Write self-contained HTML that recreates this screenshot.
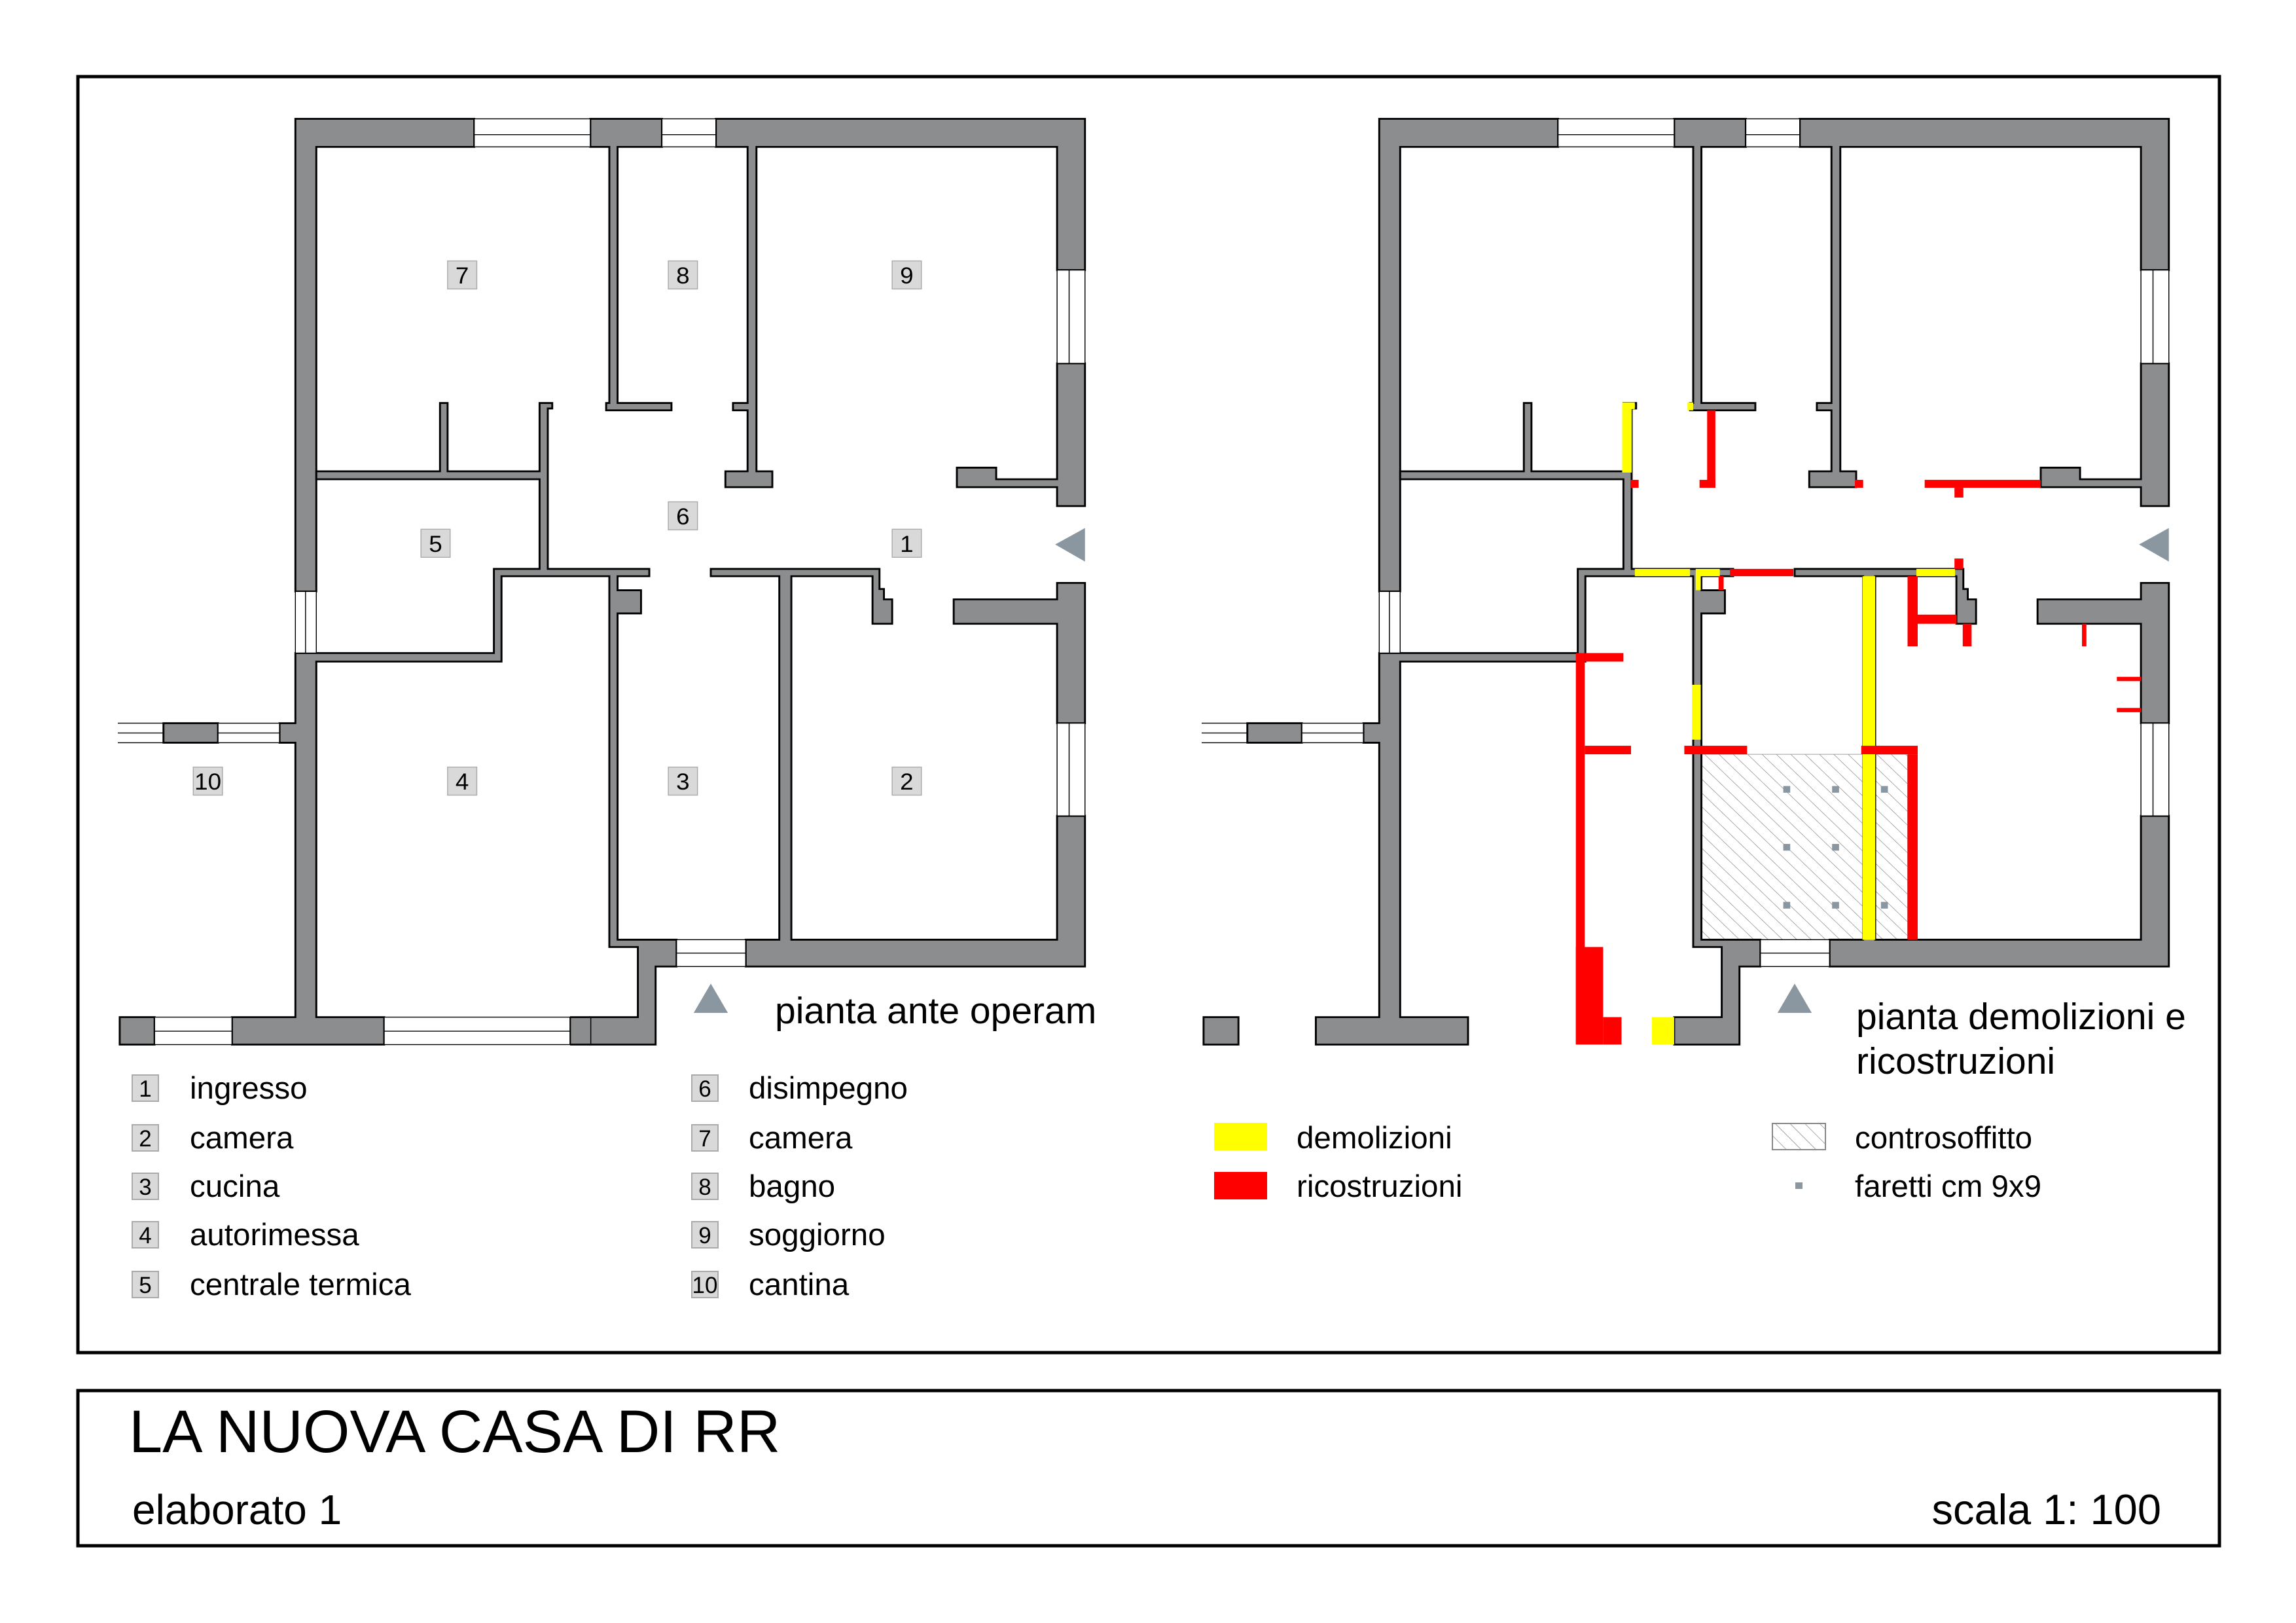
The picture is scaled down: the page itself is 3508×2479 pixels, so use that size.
<!DOCTYPE html>
<html><head><meta charset="utf-8"><style>
html,body{margin:0;padding:0;background:#fff;}
svg{display:block;}
text{font-family:"Liberation Sans",Arial,sans-serif;fill:#000;}
</style></head><body>
<svg width="3508" height="2479" viewBox="0 0 3508 2479" xmlns="http://www.w3.org/2000/svg">
<defs>
<pattern id="hatch" patternUnits="userSpaceOnUse" width="16" height="16" patternTransform="rotate(-45)">
<line x1="0" y1="0" x2="0" y2="16" stroke="#777" stroke-width="1.3"/>
</pattern>
<g id="base" stroke="#000" stroke-width="3" fill="#8c8d8e" stroke-linejoin="miter">
<polygon points="280,22 562,22 562,68 313,68 313,797 280,797"/>
<polygon points="745,22 858,22 858,68 788,68 788,488 873,488 873,500 770,500 770,488 775,488 775,68 745,68"/>
<polygon points="943,22 1525,22 1525,270 1481,270 1481,68 1007,68 1007,600 1032,600 1032,626 958,626 958,600 993,600 993,500 970,500 970,488 993,488 993,68 943,68"/>
<polygon points="1481,423 1525,423 1525,657 1481,657 1481,626 1323,626 1323,594 1385,594 1385,613 1481,613"/>
<polygon points="1481,783 1525,783 1525,1013 1481,1013 1481,850 1318,850 1318,810 1481,810"/>
<polygon points="1481,1165 1525,1165 1525,1412 990,1412 990,1368 1043,1368 1043,772 935,772 935,760 1201,760 1201,793 1208,793 1208,810 1221,810 1221,850 1190,850 1190,772 1062,772 1062,1368 1481,1368"/>
<polygon points="313,600 508,600 508,488 520,488 520,600 665,600 665,488 685,488 685,497 678,497 678,760 838,760 838,772 788,772 788,795 825,795 825,833 788,833 788,1368 881,1368 881,1412 848,1412 848,1540 745,1540 745,1495 820,1495 820,1380 775,1380 775,772 605,772 605,912 313,912 313,1495 420,1495 420,1540 180,1540 180,1495 280,1495 280,1045 255,1045 255,1013 280,1013 280,898 593,898 593,760 665,760 665,613 313,613"/>
<rect x="72" y="1013" width="86" height="32"/>
<rect x="3" y="1495" width="55" height="45"/>
<g fill="#fff" stroke-width="1.5">
<rect x="562" y="22" width="183" height="46"/><line x1="562" y1="48" x2="745" y2="48"/>
<rect x="858" y="22" width="85" height="46"/><line x1="858" y1="48" x2="943" y2="48"/>
<rect x="1481" y="270" width="44" height="153"/><line x1="1500" y1="270" x2="1500" y2="423"/>
<rect x="1481" y="1013" width="44" height="152"/><line x1="1500" y1="1013" x2="1500" y2="1165"/>
<rect x="280" y="797" width="33" height="101"/><line x1="296" y1="797" x2="296" y2="898"/>
<rect x="881" y="1368" width="109" height="44"/><line x1="881" y1="1390" x2="990" y2="1390"/>
<rect x="158" y="1013" width="97" height="32"/><line x1="158" y1="1029" x2="255" y2="1029"/>
<line x1="0" y1="1013" x2="72" y2="1013"/><line x1="0" y1="1045" x2="72" y2="1045"/><line x1="0" y1="1029" x2="72" y2="1029"/>
</g>
<polygon points="1478,720 1525,693 1525,748" fill="#8a96a0" stroke="none"/>
<polygon points="908,1488 935,1440 962,1488" fill="#8a96a0" stroke="none"/>
</g>
</defs>

<rect x="119" y="117" width="3272" height="1949" fill="none" stroke="#000" stroke-width="5"/>
<rect x="119" y="2124" width="3272" height="237" fill="none" stroke="#000" stroke-width="5"/>

<!-- LEFT PLAN -->
<g transform="translate(180,161) scale(0.969,0.9315)">
<use href="#base"/>
<g stroke="#000" stroke-width="3" fill="#8c8d8e">
<rect x="713" y="1495" width="32" height="45" stroke="none"/>
<line x1="713" y1="1495" x2="745" y2="1495"/><line x1="713" y1="1540" x2="745" y2="1540"/><line x1="713" y1="1495" x2="713" y2="1540"/>
</g>
<g fill="#fff" stroke="#000" stroke-width="1.5">
<rect x="58" y="1495" width="122" height="45"/><line x1="58" y1="1518" x2="180" y2="1518"/>
<rect x="420" y="1495" width="293" height="45"/><line x1="420" y1="1518" x2="713" y2="1518"/>
</g>
<g font-size="38" text-anchor="middle">
<g fill="#d9d9d9" stroke="#aaa" stroke-width="1.5">
<rect x="520" y="255" width="46" height="46"/><rect x="868" y="255" width="46" height="46"/><rect x="1221" y="255" width="46" height="46"/>
<rect x="868" y="650" width="46" height="46"/><rect x="478" y="695" width="46" height="46"/><rect x="1221" y="695" width="46" height="46"/>
<rect x="119" y="1085" width="46" height="46"/><rect x="520" y="1085" width="46" height="46"/><rect x="868" y="1085" width="46" height="46"/><rect x="1221" y="1085" width="46" height="46"/>
</g>
<g style="fill:#444">
<text x="543" y="292">7</text><text x="891" y="292">8</text><text x="1244" y="292">9</text>
<text x="891" y="687">6</text><text x="501" y="732">5</text><text x="1244" y="732">1</text>
<text x="142" y="1122">10</text><text x="543" y="1122">4</text><text x="891" y="1122">3</text><text x="1244" y="1122">2</text>
</g></g>
</g>
<text x="1184" y="1563" font-size="57">pianta ante operam</text>

<!-- RIGHT PLAN -->
<g transform="translate(1836,161) scale(0.969,0.9315)">
<rect x="787" y="1064" width="326" height="304" fill="url(#hatch)" stroke="#999" stroke-width="1"/>
<use href="#base"/>
<g fill="#ffff00">
<polygon points="663,487 683,487 683,498 678,498 678,602 663,602"/>
<rect x="766" y="487" width="9" height="13"/>
<rect x="683" y="760" width="87" height="12"/>
<polygon points="779,760 817,760 817,772 787,772 787,795 779,795"/>
<rect x="1127" y="760" width="61" height="12"/>
<rect x="1042" y="772" width="20" height="596"/>
<rect x="773" y="950" width="14" height="90"/>
<rect x="710" y="1495" width="35" height="45"/>
</g>
<g fill="#ff0000">
<rect x="677" y="614" width="12" height="13"/>
<rect x="797" y="500" width="13" height="127"/><rect x="785" y="614" width="25" height="13"/>
<rect x="1030" y="614" width="13" height="13"/>
<rect x="1140" y="614" width="183" height="13"/><rect x="1187" y="627" width="14" height="16"/>
<rect x="1187" y="743" width="14" height="17"/>
<rect x="833" y="760" width="100" height="12"/>
<rect x="815" y="772" width="8" height="23"/>
<rect x="1113" y="772" width="16" height="115"/><rect x="1129" y="835" width="61" height="15"/>
<rect x="1200" y="850" width="14" height="37"/>
<rect x="1388" y="850" width="7" height="37"/>
<rect x="1443" y="937" width="38" height="7"/><rect x="1443" y="988" width="38" height="7"/>
<rect x="590" y="898" width="14" height="642"/><rect x="604" y="898" width="61" height="14"/>
<rect x="604" y="1050" width="73" height="14"/>
<rect x="590" y="1380" width="43" height="160"/><rect x="633" y="1495" width="29" height="45"/>
<rect x="761" y="1050" width="99" height="14"/>
<rect x="1040" y="1050" width="89" height="14"/>
<rect x="1113" y="1064" width="16" height="304"/>
</g>
<rect x="1042" y="1064" width="20" height="304" fill="#ffff00"/>
<g fill="#8a96a0">
<rect x="917" y="1116" width="11" height="11"/><rect x="994" y="1116" width="11" height="11"/><rect x="1071" y="1116" width="11" height="11"/>
<rect x="917" y="1211" width="11" height="11"/><rect x="994" y="1211" width="11" height="11"/>
<rect x="917" y="1306" width="11" height="11"/><rect x="994" y="1306" width="11" height="11"/><rect x="1071" y="1306" width="11" height="11"/>
</g>
</g>
<text x="2836" y="1572" font-size="57">pianta demolizioni e</text>
<text x="2836" y="1640" font-size="57">ricostruzioni</text>

<!-- LEFT LEGEND -->
<g font-size="47.5">
<g fill="#d9d9d9" stroke="#aaa" stroke-width="2">
<rect x="202" y="1642" width="40" height="40"/><rect x="202" y="1718" width="40" height="40"/><rect x="202" y="1792" width="40" height="40"/><rect x="202" y="1866" width="40" height="40"/><rect x="202" y="1942" width="40" height="40"/>
<rect x="1057" y="1642" width="40" height="40"/><rect x="1057" y="1718" width="40" height="40"/><rect x="1057" y="1792" width="40" height="40"/><rect x="1057" y="1866" width="40" height="40"/><rect x="1057" y="1942" width="40" height="40"/>
</g>
<g font-size="35" text-anchor="middle" style="fill:#444">
<text x="222" y="1675">1</text><text x="222" y="1751">2</text><text x="222" y="1825">3</text><text x="222" y="1899">4</text><text x="222" y="1975">5</text>
<text x="1077" y="1675">6</text><text x="1077" y="1751">7</text><text x="1077" y="1825">8</text><text x="1077" y="1899">9</text><text x="1077" y="1975">10</text>
</g>
<text x="290" y="1678">ingresso</text><text x="290" y="1754">camera</text><text x="290" y="1828">cucina</text><text x="290" y="1902">autorimessa</text><text x="290" y="1978">centrale termica</text>
<text x="1144" y="1678">disimpegno</text><text x="1144" y="1754">camera</text><text x="1144" y="1828">bagno</text><text x="1144" y="1902">soggiorno</text><text x="1144" y="1978">cantina</text>
</g>

<!-- RIGHT LEGEND -->
<rect x="1855" y="1715" width="81" height="42" fill="#ffff00"/>
<rect x="1855" y="1790" width="81" height="42" fill="#ff0000"/>
<rect x="2708" y="1716" width="81" height="40" fill="url(#hatch)" stroke="#888" stroke-width="2"/>
<rect x="2743" y="1806" width="11" height="10" fill="#8a96a0"/>
<g font-size="47.5">
<text x="1981" y="1754">demolizioni</text>
<text x="1981" y="1828">ricostruzioni</text>
<text x="2834" y="1754">controsoffitto</text>
<text x="2834" y="1828">faretti cm 9x9</text>
</g>

<!-- TITLE -->
<text x="197" y="2218" font-size="92">LA NUOVA CASA DI RR</text>
<text x="202" y="2328" font-size="64">elaborato 1</text>
<text x="3302" y="2328" font-size="65" text-anchor="end">scala 1: 100</text>
</svg>
</body></html>
